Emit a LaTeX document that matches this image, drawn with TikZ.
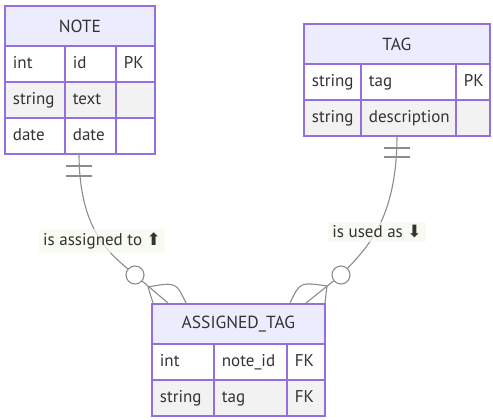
\documentclass[tikz,border=0pt]{standalone}
\usepackage{fontspec}
\setmainfont{PT Sans}
\newfontfamily\symfont{DejaVu Sans}
\definecolor{erborder}{HTML}{9370DB}
\definecolor{erhead}{HTML}{ECECFF}
\definecolor{erevenrow}{HTML}{F2F2F2}
\definecolor{erline}{HTML}{8C8C8C}
\definecolor{erlabel}{HTML}{F5F9EC}
\definecolor{ertext}{HTML}{333333}
\tikzset{
  erhdr/.style={draw=erborder, fill=erhead, line width=1.8pt, anchor=north west, inner sep=0pt,
    minimum height=40, text=ertext, font=\fontsize{17.5}{20}\selectfont},
  ercell/.style={draw=erborder, line width=1.8pt, anchor=north west, inner xsep=8pt, inner ysep=0pt,
    minimum height=36, align=left, text=ertext, text height=12pt, text depth=3pt,
    font=\fontsize{17}{20}\selectfont},
  rel/.style={draw=erline, line width=1.1pt},
  relnull/.style={rel, circle, fill=white, minimum size=18, inner sep=0pt},
  rellabel/.style={fill=erlabel, fill opacity=0.75, text opacity=1, text=ertext, inner xsep=4pt,
    inner ysep=4pt, font=\fontsize{17}{20}\selectfont},
}
% name, x, y, width, fill, text
\newcommand{\ercellnode}[6]{%
  \pgfmathsetmacro{\cellw}{#4-16}%
  \node[ercell, fill=#5, text width=\cellw pt] (#1) at (#2,#3) {#6};}
\begin{document}
\begin{tikzpicture}[x=1pt,y=-1pt]
\useasboundingbox (0,0) rectangle (493,420);
% NOTE
\node[erhdr, minimum width=150] (note) at (4,5) {NOTE};
\foreach \ty/\nm/\ky/\fl [count=\r] in {int/id/PK/white, string/text/{}/erevenrow, date/date/{}/white}{
  \pgfmathsetmacro{\ry}{45+36*(\r-1)}
  \ercellnode{note-\r a}{4}{\ry}{60}{\fl}{\ty}
  \ercellnode{note-\r b}{64}{\ry}{51}{\fl}{\nm}
  \ercellnode{note-\r c}{115}{\ry}{39}{\fl}{\ky}
}
% TAG
\node[erhdr, minimum width=186] (tag) at (303,23) {TAG};
\foreach \ty/\nm/\ky/\fl [count=\r] in {string/tag/PK/white, string/description/{}/erevenrow}{
  \pgfmathsetmacro{\ry}{63+36*(\r-1)}
  \ercellnode{tag-\r a}{303}{\ry}{57}{\fl}{\ty}
  \ercellnode{tag-\r b}{360}{\ry}{95}{\fl}{\nm}
  \ercellnode{tag-\r c}{455}{\ry}{34}{\fl}{\ky}
}
% ASSIGNED_TAG
\node[erhdr, minimum width=173] (atag) at (151,303) {ASSIGNED\_TAG};
\foreach \ty/\nm/\ky/\fl [count=\r] in {int/note\_id/FK/white, string/tag/FK/erevenrow}{
  \pgfmathsetmacro{\ry}{343+36*(\r-1)}
  \ercellnode{atag-\r a}{151}{\ry}{62}{\fl}{\ty}
  \ercellnode{atag-\r b}{213}{\ry}{73}{\fl}{\nm}
  \ercellnode{atag-\r c}{286}{\ry}{38}{\fl}{\ky}
}

% NOTE -- ASSIGNED_TAG
\coordinate (note-s) at (79,153);
\coordinate (note-fork) at (148,287);
\node[relnull] (note-o) at (135,275) {};
\draw[rel] (note-s) .. controls (79,228) and (108,252) .. (note-o);
\draw[rel] (66,166) -- (92,166) (66,176) -- (92,176);
\draw[rel] (note-o) -- (168,303);
\draw[rel] (note-fork) -- (153,303);
\draw[rel] (note-fork) .. controls (176,282) .. (186,303);
\node[rellabel] (assign-lbl) at (102,241) {is assigned to {\symfont ⬆}};

% TAG -- ASSIGNED_TAG
\coordinate (tag-s) at (397,135);
\coordinate (tag-fork) at (327,286);
\node[relnull] (tag-o) at (341,275) {};
\draw[rel] (tag-s) .. controls (397,212) and (372,243) .. (tag-o);
\draw[rel] (384,148) -- (410,148) (384,157) -- (410,157);
\draw[rel] (tag-o) -- (306,303);
\draw[rel] (tag-fork) -- (325,303);
\draw[rel] (tag-fork) .. controls (300,282) .. (290,303);
\node[rellabel] (used-lbl) at (377,232) {is used as {\symfont ⬇}};
\end{tikzpicture}
\end{document}
